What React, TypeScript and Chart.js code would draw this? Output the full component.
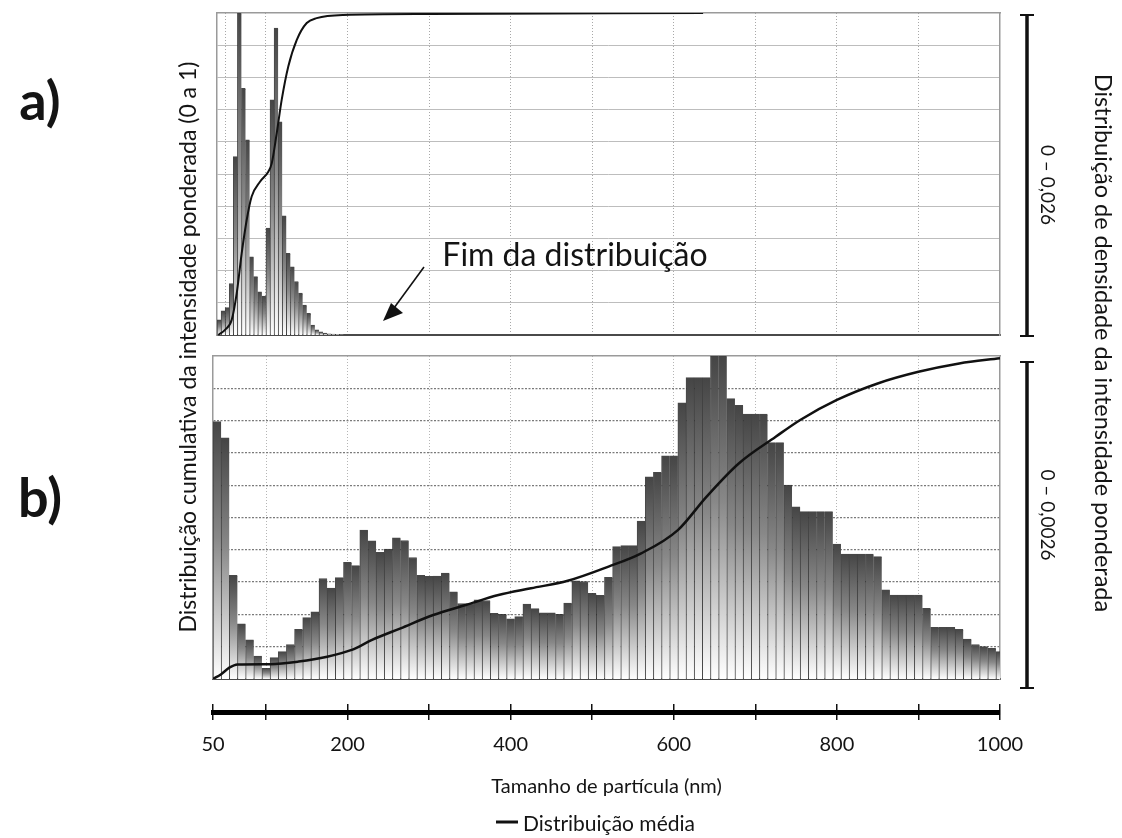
import React, { useEffect, useRef } from 'react';
import { Chart, registerables } from 'chart.js';

Chart.register(...registerables);

const FONT = 'Lato, "Open Sans", sans-serif';
const TEXT = '#141414';
const FRAME = '#9a9a9a';

// ---------- Panel a) : 5 nm bins ----------
const sizesA = [
  42.5, 47.5, 52.5, 57.5, 62.5, 67.5, 72.5, 77.5, 82.5, 87.5, 92.5, 97.5, 102.5, 107.5, 112.5, 117.5,
  122.5, 127.5, 132.5, 137.5, 142.5, 147.5, 152.5, 157.5, 162.5, 167.5, 172.5, 177.5, 182.5, 187.5, 192.5,
];
const densityA = [
  0.00122, 0.00195, 0.00221, 0.00416, 0.0144, 0.026, 0.01992, 0.01576, 0.00632, 0.00471, 0.00348, 0.00315,
  0.00863, 0.01898, 0.02478, 0.01721, 0.00962, 0.0066, 0.00551, 0.00432, 0.00338, 0.00242, 0.00174, 0.00081,
  0.00042, 0.00026, 0.00016, 0.0001, 0.00008, 0.00005, 0.00003,
];
const cumSizesA = [41.6, 49.8, 58, 64.2, 70.3, 76.4, 82.5, 92.7, 102.9, 107.1, 113.2, 119.3, 127.4, 137.7, 150, 162.2, 195, 301, 636];
const cumA = [0, 0.016, 0.047, 0.13, 0.254, 0.357, 0.43, 0.476, 0.507, 0.533, 0.626, 0.73, 0.834, 0.916, 0.969, 0.984, 0.994, 0.997, 1.0];
const DENS_MAX_A = 0.026;
const X_MIN_A = 40;
const gridXA = [50, 100, 200, 300, 400, 500, 600, 700, 800, 900];

// ---------- Panel b) : 10 nm bins ----------
const BIN_START_B = 40;
const BIN_STEP_B = 10;
const densityB = [
  20.72e-4, 19.42e-4, 8.35e-4, 4.45e-4, 3.15e-4, 1.85e-4, 0.86e-4, 1.72e-4, 2.21e-4, 2.78e-4,
  4.0e-4, 4.94e-4, 5.41e-4, 8.09e-4, 7.31e-4, 8.16e-4, 9.39e-4, 9.13e-4, 11.99e-4, 11.13e-4,
  10.19e-4, 10.45e-4, 11.36e-4, 11.15e-4, 9.78e-4, 8.35e-4, 8.27e-4, 8.29e-4, 8.53e-4, 7.02e-4,
  6.08e-4, 6.08e-4, 6.37e-4, 6.32e-4, 5.28e-4, 5.2e-4, 4.84e-4, 5.02e-4, 6.03e-4, 5.67e-4,
  5.33e-4, 5.33e-4, 5.2e-4, 6.11e-4, 7.9e-4, 7.85e-4, 6.89e-4, 6.73e-4, 8.19e-4, 10.66e-4,
  10.74e-4, 10.74e-4, 12.71e-4, 16.28e-4, 16.64e-4, 17.97e-4, 17.97e-4, 22.23e-4, 24.26e-4, 24.26e-4,
  24.26e-4, 26.0e-4, 26.0e-4, 22.57e-4, 22.02e-4, 21.32e-4, 21.32e-4, 21.32e-4, 19.03e-4, 19.03e-4,
  15.6e-4, 13.86e-4, 13.47e-4, 13.47e-4, 13.47e-4, 13.47e-4, 10.87e-4, 10.06e-4, 10.06e-4, 10.06e-4,
  10.06e-4, 9.85e-4, 7.18e-4, 6.76e-4, 6.76e-4, 6.76e-4, 6.76e-4, 5.69e-4, 4.16e-4, 4.16e-4,
  4.16e-4, 4.0e-4, 3.22e-4, 2.78e-4, 2.6e-4, 2.47e-4, 2.21e-4,
];
const sizesB = densityB.map((_, i) => BIN_START_B + BIN_STEP_B * i);
const cumSizesB = [35, 45, 55, 65, 105, 140, 175, 205, 230, 265, 305, 345, 385, 425, 470, 520, 560, 605, 640, 680, 725, 755, 800, 850, 900, 950, 1000];
const cumB = [0, 0.015, 0.035, 0.045, 0.046, 0.054, 0.069, 0.09, 0.121, 0.157, 0.198, 0.229, 0.26, 0.281, 0.304, 0.348, 0.389, 0.461, 0.564, 0.668, 0.75, 0.802, 0.864, 0.915, 0.951, 0.977, 0.993];
const DENS_MAX_B = 0.0026;
const X_MIN_B = 35;
const gridXB = [100, 200, 300, 400, 500, 600, 700, 800, 900];

// ---------- shared ----------
const X_MAX = 1000;
const gridY = [0.1, 0.2, 0.3, 0.4, 0.5, 0.6, 0.7, 0.8, 0.9];
const axisTickValues = [35, 100, 200, 300, 400, 500, 600, 700, 800, 900, 1000];
const axisTickLabels = ['50', '', '200', '', '400', '', '600', '', '800', '', '1000'];

function barFill(ctx: any) {
  const chart = ctx.chart;
  const ys = chart.scales && chart.scales.yDens;
  const v = ctx.parsed ? ctx.parsed.y : undefined;
  if (!ys || v == null) return '#999';
  const top = ys.getPixelForValue(v);
  const base = ys.getPixelForValue(0);
  if (!isFinite(top) || !isFinite(base) || base - top < 1) return '#cfcfcf';
  const g = chart.ctx.createLinearGradient(0, top, 0, base);
  g.addColorStop(0, '#454545');
  g.addColorStop(0.45, '#888888');
  g.addColorStop(1, '#ffffff');
  return g;
}

function panelConfig(p: any): any {
  return {
    type: 'bar',
    data: {
      datasets: [
        {
          type: 'line',
          label: 'Distribuição média',
          data: p.cumX.map((x: number, i: number) => ({ x, y: p.cumY[i] })),
          xAxisID: 'x',
          yAxisID: 'yCum',
          borderColor: '#111',
          borderWidth: p.lineWidth,
          pointRadius: 0,
          cubicInterpolationMode: 'monotone',
          fill: false,
          order: 0,
        },
        {
          type: 'bar',
          label: 'Densidade',
          data: p.sizes.map((x: number, i: number) => ({ x, y: p.dens[i] })),
          xAxisID: 'x',
          yAxisID: 'yDens',
          backgroundColor: barFill,
          borderColor: 'rgba(40,40,40,0.85)',
          borderWidth: { top: 1, left: 1, right: 0, bottom: 0 },
          barPercentage: 1,
          categoryPercentage: 1,
          grouped: false,
          order: 1,
        },
      ],
    },
    options: {
      responsive: false,
      animation: false,
      events: [],
      layout: { padding: p.padding },
      plugins: { legend: { display: false }, tooltip: { enabled: false } },
      scales: {
        x: {
          type: 'linear',
          position: 'bottom',
          min: p.xMin,
          max: X_MAX,
          offset: false,
          afterBuildTicks: (s: any) => {
            s.ticks = p.gridX.map((v: number) => ({ value: v }));
          },
          ticks: { display: false },
          grid: { display: true, drawTicks: false, offset: false, color: p.vGridColor, lineWidth: 1 },
          border: { display: true, color: '#4a4a4a', width: 2, dash: [1, 2] },
        },
        xTop: {
          type: 'linear',
          position: 'top',
          min: p.xMin,
          max: X_MAX,
          ticks: { display: false },
          grid: { display: false, drawTicks: false },
          border: { display: true, color: FRAME, width: 1.5 },
        },
        yCum: {
          type: 'linear',
          position: 'left',
          min: 0,
          max: 1,
          afterBuildTicks: (s: any) => {
            s.ticks = gridY.map((v: number) => ({ value: v }));
          },
          ticks: { display: false },
          grid: { display: true, drawTicks: false, color: p.hGridColor, lineWidth: p.hGridWidth },
          border: { display: true, color: FRAME, width: 1.5, dash: p.hDash },
        },
        yDens: {
          type: 'linear',
          position: 'right',
          min: 0,
          max: p.densMax,
          ticks: { display: false },
          grid: { display: false, drawTicks: false },
          border: { display: true, color: FRAME, width: 1.5 },
        },
      },
    },
  };
}

const axisConfig: any = {
  type: 'line',
  data: { datasets: [] },
  options: {
    responsive: false,
    animation: false,
    events: [],
    layout: { padding: { left: 213, right: 122, top: 14, bottom: 36 } },
    plugins: { legend: { display: false }, tooltip: { enabled: false } },
    scales: {
      x: {
        type: 'linear',
        position: 'bottom',
        min: X_MIN_B,
        max: X_MAX,
        afterBuildTicks: (s: any) => {
          s.ticks = axisTickValues.map((v) => ({ value: v }));
        },
        afterFit: (s: any) => {
          s.height = 90;
        },
        ticks: {
          display: true,
          autoSkip: false,
          maxRotation: 0,
          padding: 13,
          color: TEXT,
          font: { family: FONT, size: 20 },
          callback: (_v: any, i: number) => axisTickLabels[i],
        },
        grid: {
          display: true,
          drawOnChartArea: true,
          drawTicks: true,
          tickLength: 8,
          color: '#111',
          lineWidth: 1.5,
          tickColor: '#111',
          tickWidth: 1.5,
        },
        border: { display: true, color: '#000', width: 5 },
        title: {
          display: true,
          text: 'Tamanho de partícula (nm)',
          color: TEXT,
          font: { family: FONT, size: 20 },
          padding: { top: 0, bottom: 3 },
        },
      },
      y: { display: false, min: 0, max: 1 },
    },
  },
};

function ChartCanvas({ config, top, height }: { config: any; top: number; height: number }) {
  const ref = useRef<HTMLCanvasElement | null>(null);
  useEffect(() => {
    if (!ref.current) return;
    const chart = new Chart(ref.current, config);
    return () => chart.destroy();
  }, [config]);
  return (
    <canvas
      ref={ref}
      width={1122}
      height={height}
      style={{ position: 'absolute', left: 0, top, width: 1122, height }}
    />
  );
}

function Label({ x, y, rot = 0, size, weight = 400, children }: any) {
  return (
    <div
      style={{
        position: 'absolute',
        left: x,
        top: y,
        transform: `translate(-50%, -50%) rotate(${rot}deg)`,
        whiteSpace: 'nowrap',
        fontSize: size,
        fontWeight: weight,
        lineHeight: 1,
        fontFamily: FONT,
        color: TEXT,
      }}
    >
      {children}
    </div>
  );
}

const configA = panelConfig({
  cumX: cumSizesA,
  cumY: cumA,
  sizes: sizesA,
  dens: densityA,
  densMax: DENS_MAX_A,
  xMin: X_MIN_A,
  gridX: gridXA,
  padding: { left: 217, right: 122, top: 13, bottom: 11 },
  vGridColor: '#a8a8a8',
  hGridColor: '#bdbdbd',
  hGridWidth: 1,
  hDash: [],
  lineWidth: 2,
});

const configB = panelConfig({
  cumX: cumSizesB,
  cumY: cumB,
  sizes: sizesB,
  dens: densityB,
  densMax: DENS_MAX_B,
  xMin: X_MIN_B,
  gridX: gridXB,
  padding: { left: 213, right: 122, top: 10, bottom: 9 },
  vGridColor: '#b5b5b5',
  hGridColor: '#7a7a7a',
  hGridWidth: 1.3,
  hDash: [2, 1.5],
  lineWidth: 2.5,
});

export default function App() {
  return (
    <div style={{ position: 'fixed', left: 0, top: 0, width: 1122, height: 838, background: '#fff', overflow: 'hidden' }}>
      <ChartCanvas config={configA} top={0} height={346} />
      <ChartCanvas config={configB} top={346} height={342} />
      <ChartCanvas config={axisConfig} top={690} height={148} />

      <svg width={1122} height={838} style={{ position: 'absolute', left: 0, top: 0, pointerEvents: 'none' }}>
        {/* right-hand range brackets */}
        <line x1={1027} y1={15} x2={1027} y2={336} stroke="#111" strokeWidth={3.5} />
        <line x1={1020} y1={15} x2={1034} y2={15} stroke="#111" strokeWidth={2} />
        <line x1={1020} y1={336} x2={1034} y2={336} stroke="#111" strokeWidth={2} />
        <line x1={1027} y1={362} x2={1027} y2={688} stroke="#111" strokeWidth={3.5} />
        <line x1={1020} y1={362} x2={1034} y2={362} stroke="#111" strokeWidth={2} />
        <line x1={1020} y1={688} x2={1034} y2={688} stroke="#111" strokeWidth={2} />
        {/* annotation arrow */}
        <line x1={424} y1={267} x2={394} y2={308} stroke="#111" strokeWidth={1.6} />
        <polygon points="383,321 391,303 403,313" fill="#111" />
        {/* legend line */}
        <line x1={496} y1={822} x2={518} y2={822} stroke="#111" strokeWidth={3} />
      </svg>

      <Label x={40} y={100} size={54} weight={700}>a)</Label>
      <Label x={40} y={497} size={54} weight={700}>b)</Label>
      <Label x={187} y={347} rot={-90} size={23}>Distribuição cumulativa da intensidade ponderada (0 a 1)</Label>
      <Label x={1103} y={343} rot={90} size={23.5}>Distribuição de densidade da intensidade ponderada</Label>
      <Label x={1048} y={185} rot={90} size={19}>0 – 0,026</Label>
      <Label x={1048} y={515} rot={90} size={19}>0 – 0,0026</Label>
      <Label x={575} y={254} size={32}>Fim da distribuição</Label>
      <div
        style={{
          position: 'absolute',
          left: 523,
          top: 822,
          transform: 'translateY(-50%)',
          whiteSpace: 'nowrap',
          fontSize: 21,
          lineHeight: 1,
          fontFamily: FONT,
          color: TEXT,
        }}
      >
        Distribuição média
      </div>
    </div>
  );
}
